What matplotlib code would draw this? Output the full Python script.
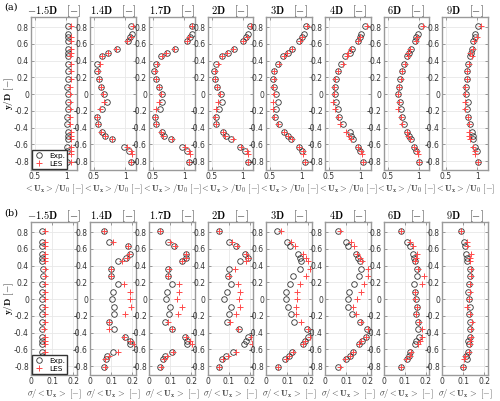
import numpy as np
import matplotlib
matplotlib.use("Agg")
import matplotlib.pyplot as plt

plt.rcParams["mathtext.fontset"] = "cm"
plt.rcParams["axes.unicode_minus"] = False

# =========================
# Данные
# =========================
stations = ["-1.5D", "1.4D", "1.7D", "2D", "3D", "4D", "6D", "9D"]

# (a) mean velocity: y positions
y_exp_a = [0.81, 0.72, 0.68, 0.63, 0.54, 0.49, 0.45, 0.36, 0.27, 0.18, 0.09, 0.0,
           -0.09, -0.18, -0.27, -0.36, -0.45, -0.50, -0.54, -0.63, -0.68, -0.81]
y_les_a = [0.81, 0.68, 0.63, 0.54, 0.49, 0.45, 0.36, 0.27, 0.18, 0.09, 0.0,
           -0.09, -0.18, -0.27, -0.36, -0.45, -0.50, -0.54, -0.63, -0.68, -0.72, -0.81]

ux_exp_m15 = [1.03, 1.03, 1.03, 1.03, 1.03, 1.03, 1.03, 1.03, 1.03, 1.03, 1.02, 1.03,
              1.03, 1.03, 1.02, 1.02, 1.03, 1.03, 1.03, 1.02, 1.02, 1.02]
ux_les_m15 = [1.07, 1.07, 1.07, 1.07, 1.07, 1.06, 1.07, 1.07, 1.07, 1.06, 1.06,
              1.06, 1.06, 1.06, 1.06, 1.07, 1.07, 1.07, 1.07, 1.07, 1.07, 1.07]
ux_exp_14 = [1.10, 1.11, 1.08, 1.05, 0.87, 0.73, 0.63, 0.55, 0.55, 0.58, 0.61, 0.66,
             0.70, 0.63, 0.55, 0.56, 0.62, 0.67, 0.79, 0.98, 1.06, 1.10]
ux_les_14 = [1.13, 1.10, 1.03, 0.85, 0.72, 0.62, 0.59, 0.56, 0.58, 0.61, 0.65,
             0.66, 0.59, 0.54, 0.57, 0.61, 0.68, 0.78, 1.03, 1.09, 1.11, 1.10]
ux_exp_17 = [1.12, 1.12, 1.09, 1.04, 0.85, 0.72, 0.63, 0.54, 0.52, 0.54, 0.59, 0.64,
             0.65, 0.61, 0.53, 0.54, 0.64, 0.68, 0.79, 0.97, 1.05, 1.08]
ux_les_17 = [1.13, 1.08, 1.05, 0.84, 0.71, 0.65, 0.56, 0.53, 0.55, 0.59, 0.63,
             0.60, 0.55, 0.53, 0.55, 0.63, 0.66, 0.80, 1.01, 1.08, 1.10, 1.08]
ux_exp_2 = [1.11, 1.09, 1.05, 1.01, 0.86, 0.77, 0.66, 0.57, 0.54, 0.55, 0.59, 0.65,
            0.67, 0.62, 0.57, 0.57, 0.68, 0.73, 0.81, 0.96, 1.03, 1.08]
ux_les_2 = [1.13, 1.07, 1.01, 0.84, 0.75, 0.67, 0.61, 0.55, 0.55, 0.59, 0.64,
            0.61, 0.57, 0.56, 0.57, 0.69, 0.72, 0.84, 0.98, 1.07, 1.09, 1.09]
ux_exp_3 = [1.08, 1.05, 1.01, 0.97, 0.86, 0.78, 0.71, 0.62, 0.56, 0.55, 0.56, 0.60,
            0.62, 0.60, 0.58, 0.64, 0.73, 0.79, 0.84, 0.96, 1.01, 1.06]
ux_les_3 = [1.10, 1.02, 0.98, 0.85, 0.77, 0.72, 0.64, 0.57, 0.56, 0.55, 0.56,
            0.55, 0.54, 0.56, 0.63, 0.73, 0.78, 0.85, 0.97, 1.03, 1.03, 1.06]
ux_exp_4 = [1.07, 1.02, 0.99, 0.96, 0.87, 0.83, 0.76, 0.69, 0.64, 0.61, 0.59, 0.59,
            0.61, 0.64, 0.66, 0.72, 0.83, 0.85, 0.89, 0.96, 1.00, 1.05]
ux_les_4 = [1.11, 0.99, 0.96, 0.85, 0.81, 0.79, 0.72, 0.64, 0.60, 0.58, 0.58,
            0.57, 0.59, 0.64, 0.68, 0.77, 0.82, 0.85, 0.96, 1.02, 1.03, 1.05]
ux_exp_6 = [1.04, 0.99, 0.96, 0.94, 0.88, 0.84, 0.81, 0.76, 0.73, 0.70, 0.68, 0.67,
            0.70, 0.72, 0.73, 0.77, 0.82, 0.84, 0.87, 0.93, 0.96, 1.00]
ux_les_6 = [1.07, 0.97, 0.95, 0.86, 0.83, 0.83, 0.78, 0.73, 0.71, 0.69, 0.67,
            0.68, 0.67, 0.72, 0.73, 0.81, 0.83, 0.86, 0.92, 0.97, 0.99, 1.00]
ux_exp_9 = [1.01, 0.97, 0.96, 0.94, 0.91, 0.90, 0.89, 0.86, 0.84, 0.83, 0.82, 0.82,
            0.85, 0.84, 0.85, 0.88, 0.91, 0.93, 0.94, 0.96, 0.99, 1.01]
ux_les_9 = [1.06, 0.99, 0.95, 0.93, 0.89, 0.91, 0.87, 0.84, 0.83, 0.81, 0.81,
            0.81, 0.81, 0.85, 0.87, 0.87, 0.87, 0.89, 0.94, 0.97, 0.97, 1.01]

# (b) fluctuations: y positions
y_b = [0.81, 0.68, 0.63, 0.54, 0.49, 0.45, 0.36, 0.27, 0.18, 0.09, 0.0,
       -0.09, -0.18, -0.27, -0.36, -0.45, -0.50, -0.54, -0.63, -0.68, -0.72, -0.81]

sg_exp_m15 = [0.053, 0.053, 0.053, 0.053, 0.054, 0.054, 0.056, 0.057, 0.054, 0.053, 0.053,
              0.053, 0.054, 0.053, 0.052, 0.053, 0.053, 0.053, 0.053, 0.053, 0.055, 0.053]
sg_les_m15 = [0.064, 0.066, 0.066, 0.066, 0.065, 0.067, 0.067, 0.066, 0.065, 0.064, 0.064,
              0.065, 0.065, 0.064, 0.063, 0.066, 0.066, 0.066, 0.065, 0.064, 0.064, 0.063]
sg_exp_14 = [0.066, 0.092, 0.180, 0.190, 0.170, 0.130, 0.097, 0.100, 0.130, 0.108, 0.105,
             0.112, 0.115, 0.089, 0.112, 0.165, 0.190, 0.190, 0.108, 0.082, 0.074, 0.065]
sg_les_14 = [0.066, 0.110, 0.180, 0.185, 0.175, 0.150, 0.097, 0.100, 0.160, 0.190, 0.188,
             0.195, 0.165, 0.090, 0.092, 0.160, 0.190, 0.210, 0.130, 0.090, 0.072, 0.072]
sg_exp_17 = [0.050, 0.090, 0.120, 0.175, 0.175, 0.155, 0.090, 0.088, 0.108, 0.085, 0.078,
             0.100, 0.093, 0.076, 0.110, 0.170, 0.180, 0.180, 0.110, 0.075, 0.065, 0.050]
sg_les_17 = [0.052, 0.100, 0.125, 0.175, 0.175, 0.155, 0.093, 0.090, 0.140, 0.140, 0.130,
             0.158, 0.135, 0.092, 0.110, 0.175, 0.195, 0.205, 0.115, 0.085, 0.070, 0.055]
sg_exp_2 = [0.052, 0.100, 0.133, 0.177, 0.193, 0.155, 0.100, 0.097, 0.113, 0.093, 0.080,
            0.110, 0.100, 0.093, 0.147, 0.193, 0.183, 0.172, 0.122, 0.088, 0.067, 0.052]
sg_les_2 = [0.052, 0.117, 0.138, 0.183, 0.193, 0.180, 0.130, 0.100, 0.142, 0.152, 0.147,
            0.152, 0.133, 0.108, 0.142, 0.205, 0.218, 0.208, 0.135, 0.097, 0.072, 0.052]
sg_exp_3 = [0.053, 0.100, 0.115, 0.153, 0.162, 0.165, 0.162, 0.128, 0.112, 0.095, 0.095,
            0.103, 0.117, 0.133, 0.195, 0.200, 0.182, 0.175, 0.125, 0.107, 0.092, 0.058]
sg_les_3 = [0.073, 0.120, 0.137, 0.173, 0.187, 0.200, 0.207, 0.190, 0.162, 0.145, 0.145,
            0.140, 0.140, 0.165, 0.197, 0.207, 0.182, 0.175, 0.128, 0.110, 0.095, 0.058]
sg_exp_4 = [0.063, 0.100, 0.111, 0.148, 0.156, 0.165, 0.170, 0.160, 0.137, 0.113, 0.111,
            0.111, 0.127, 0.165, 0.200, 0.194, 0.173, 0.161, 0.132, 0.120, 0.100, 0.063]
sg_les_4 = [0.073, 0.124, 0.135, 0.153, 0.165, 0.176, 0.205, 0.205, 0.186, 0.168, 0.152,
            0.132, 0.148, 0.170, 0.205, 0.194, 0.170, 0.161, 0.132, 0.117, 0.095, 0.073]
sg_exp_6 = [0.085, 0.113, 0.125, 0.138, 0.143, 0.150, 0.160, 0.160, 0.142, 0.150, 0.155,
            0.160, 0.152, 0.163, 0.163, 0.167, 0.152, 0.150, 0.125, 0.122, 0.113, 0.085]
sg_les_6 = [0.085, 0.127, 0.138, 0.160, 0.155, 0.150, 0.163, 0.192, 0.183, 0.150, 0.147,
            0.160, 0.155, 0.167, 0.180, 0.180, 0.172, 0.163, 0.130, 0.127, 0.108, 0.085]
sg_exp_9 = [0.088, 0.105, 0.110, 0.113, 0.118, 0.118, 0.133, 0.130, 0.127, 0.125, 0.127,
            0.130, 0.127, 0.133, 0.130, 0.130, 0.122, 0.127, 0.122, 0.113, 0.118, 0.100]
sg_les_9 = [0.088, 0.118, 0.118, 0.135, 0.133, 0.133, 0.135, 0.135, 0.133, 0.133, 0.127,
            0.118, 0.130, 0.142, 0.135, 0.135, 0.130, 0.133, 0.127, 0.110, 0.105, 0.100]

ux_exp = [ux_exp_m15, ux_exp_14, ux_exp_17, ux_exp_2, ux_exp_3, ux_exp_4, ux_exp_6, ux_exp_9]
ux_les = [ux_les_m15, ux_les_14, ux_les_17, ux_les_2, ux_les_3, ux_les_4, ux_les_6, ux_les_9]
sg_exp = [sg_exp_m15, sg_exp_14, sg_exp_17, sg_exp_2, sg_exp_3, sg_exp_4, sg_exp_6, sg_exp_9]
sg_les = [sg_les_m15, sg_les_14, sg_les_17, sg_les_2, sg_les_3, sg_les_4, sg_les_6, sg_les_9]

yticks = [-0.8, -0.6, -0.4, -0.2, 0, 0.2, 0.4, 0.6, 0.8]
ytick_labels = ["-0.8", "-0.6", "-0.4", "-0.2", "0", "0.2", "0.4", "0.6", "0.8"]

# =========================
# Рисунок
# =========================
W, H = 500, 401
fig = plt.figure(figsize=(W / 100, H / 100), dpi=100)

lefts = [31, 90, 149, 207.5, 266, 325, 383.5, 442]
pw = 45.5
rows = [(17, 170), (222, 375)]  # top, bottom in px

frame_col = "#9a9a9a"
red = "#ff4a4a"


def make_ax(i, row):
    top, bot = rows[row]
    ax = fig.add_axes([lefts[i] / W, 1 - bot / H, pw / W, (bot - top) / H])
    for s in ax.spines.values():
        s.set_color(frame_col)
        s.set_linewidth(1.0)
    ax.grid(True, color="#e8e8e8", linewidth=0.6)
    ax.set_axisbelow(True)
    ax.tick_params(direction="in", length=2, width=0.5, color="#777777",
                   labelsize=5.5, labelcolor="#333333", pad=1.5,
                   right=True, top=True)
    ax.set_ylim(-0.905, 0.92)
    ax.set_yticks(yticks)
    ax.set_yticklabels(ytick_labels)
    ax.set_title(r"$\mathbf{" + stations[i] + r"}$   $[-]$", fontsize=7.5, pad=2)
    return ax


def add_legend(ax):
    ax.legend(loc="lower left", fontsize=5.3, handlelength=1.4,
              borderpad=0.3, labelspacing=0.25, handletextpad=0.6,
              fancybox=False, edgecolor="#333333", framealpha=1,
              borderaxespad=0.15)


for i in range(8):
    # (a) средняя скорость
    ax = make_ax(i, 0)
    ax.plot(ux_exp[i], y_exp_a, "o", ms=4, mfc="none", mec="#333333", mew=0.6,
            label="Exp.")
    ax.plot(ux_les[i], y_les_a, "+", ms=4, color=red, mew=0.7, label="LES")
    ax.set_xlim(0.435, 1.165)
    ax.set_xticks([0.5, 1])
    ax.set_xticklabels(["0.5", "1"])
    ax.set_xlabel(r"$<\mathbf{U_x}>/\mathbf{U_0}$ $[-]$", fontsize=6.2, labelpad=1,
                  color="#444444")
    if i == 0:
        ax.set_ylabel(r"$\mathbf{y/D}$ $[-]$", fontsize=6.8)
        ax.yaxis.set_label_coords(-0.33, 0.5)
        add_legend(ax)

    # (b) пульсации
    ax = make_ax(i, 1)
    ax.plot(sg_exp[i], y_b, "o", ms=4, mfc="none", mec="#333333", mew=0.6,
            label="Exp.")
    ax.plot(sg_les[i], y_b, "+", ms=4, color=red, mew=0.7, label="LES")
    ax.set_xlim(0, 0.215)
    ax.set_xticks([0, 0.1, 0.2])
    ax.set_xticklabels(["0", "0.1", "0.2"])
    ax.set_xlabel(r"$\sigma/<\mathbf{U_x}>$ $[-]$", fontsize=6.2, labelpad=1,
                  color="#444444")
    if i == 0:
        ax.set_ylabel(r"$\mathbf{y/D}$ $[-]$", fontsize=6.8)
        ax.yaxis.set_label_coords(-0.33, 0.5)
        add_legend(ax)

fig.text(4 / W, 1 - 10 / H, "(a)", fontsize=7, family="DejaVu Serif")
fig.text(4 / W, 1 - 216 / H, "(b)", fontsize=7, family="DejaVu Serif")

plt.savefig("out.png", dpi=100)
